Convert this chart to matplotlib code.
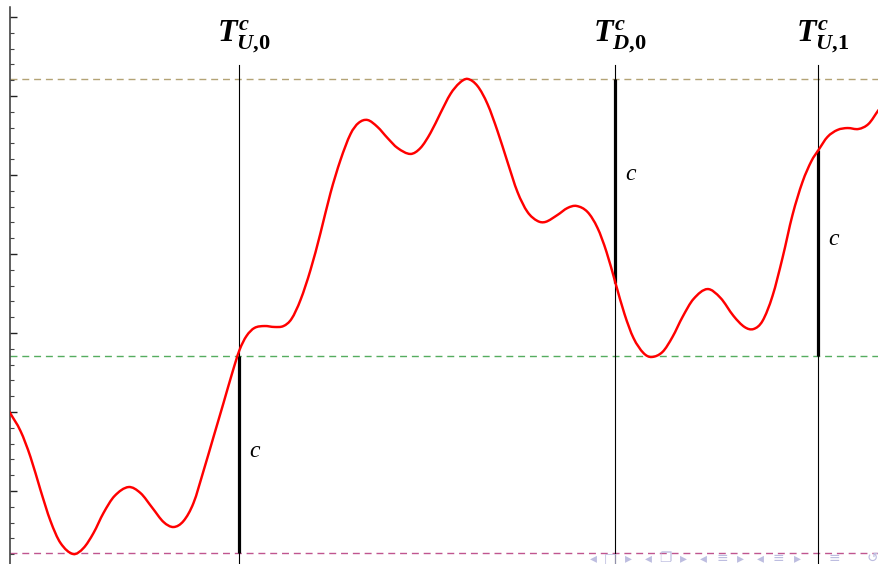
import matplotlib
matplotlib.use("Agg")
import matplotlib.pyplot as plt
from matplotlib.ticker import MultipleLocator
from matplotlib.path import Path
from matplotlib.patches import PathPatch

plt.rcParams['mathtext.fontset'] = 'custom'
plt.rcParams['mathtext.it'] = 'Liberation Serif:italic:bold'
plt.rcParams['mathtext.rm'] = 'Liberation Serif:bold'
plt.rcParams['mathtext.bf'] = 'Liberation Serif:bold'

# ---- data (time, level) ----
t = [0, 1.1, 2.1, 3.1, 4.1, 5.1, 6.37, 7.4, 8.4, 9.4, 10.5, 11.9, 13.1, 14.3, 15.4,
     16.4, 17.4, 18.4, 19.4, 20.4, 21.4, 22.3, 23.0, 23.7, 24.5, 25.5, 26.5, 27.4,
     28.2, 29.1, 30.1, 31.1, 32.1, 33.1, 34.1, 34.9, 35.8, 36.8, 37.8, 38.8, 40.1,
     41.1, 42.1, 43.1, 44.1, 45.0, 45.8, 46.8, 47.8, 48.8, 49.8, 50.8, 51.8, 52.8,
     53.6, 54.8, 55.8, 56.7, 57.8, 58.8, 59.7, 60.6, 61.5, 62.4, 63.4, 64.2, 65.3,
     66.3, 67.3, 68.4, 69.8, 71.1, 72.4, 73.5, 74.4, 75.3, 76.3, 77.3, 78.3, 79.3,
     80.2, 80.9, 81.8, 82.8, 83.8, 84.9, 85.9, 86.9]
level = [0, -1.20, -2.85, -4.94, -6.90, -8.29, -8.99, -8.61, -7.66, -6.39, -5.32,
         -4.75, -5.13, -6.08, -6.96, -7.28, -6.90, -5.76, -3.73, -1.58, 0.57, 2.53,
         3.92, 4.81, 5.32, 5.44, 5.38, 5.44, 5.89, 7.09, 8.99, 11.33, 13.86, 15.95,
         17.59, 18.29, 18.48, 18.04, 17.34, 16.71, 16.33, 16.71, 17.66, 18.92, 20.13,
         20.82, 21.08, 20.63, 19.49, 17.78, 15.82, 13.92, 12.66, 12.09, 12.03, 12.47,
         12.91, 13.04, 12.66, 11.65, 10.13, 8.16, 6.20, 4.68, 3.73, 3.48, 3.80, 4.75,
         6.01, 7.15, 7.78, 7.22, 6.08, 5.38, 5.25, 5.76, 7.34, 9.75, 12.47, 14.56,
         15.89, 16.58, 17.41, 17.85, 17.97, 17.91, 18.23, 19.11]

levels = [21.08, 3.54, -8.92]            # max level, running level, min level
level_colors = ['#b3a375', '#55ad5f', '#c0558f']

stop_times = [23.0, 60.6, 80.9]
stop_labels = [r'$T^{c}_{U{,}0}$', r'$T^{c}_{D{,}0}$', r'$T^{c}_{U{,}1}$']
seg_bottom = [-8.92, 8.16, 3.54]
seg_top = [3.54, 21.08, 16.58]
c_label_y = [-2.5, 15.0, 10.9]

nav_symbols = ['◂', '□', '▸', '◂', '❐', '▸', '◂', '≡', '▸', '◂', '≡', '▸', '≡', '↺']
nav_px = [593, 610, 628, 648, 665, 683, 703, 722, 740, 760, 778, 797, 834, 872]

# ---- figure ----
W, H = 879, 564
fig = plt.figure(figsize=(W / 100, H / 100), dpi=100)
ax = fig.add_axes([9.5 / W, 0, (W - 9.5) / W, (H - 7) / H])
ax.set_xlim(0, 86.95)
ax.set_ylim(-9.62, 25.63)

for lv, col in zip(levels, level_colors):
    ax.axhline(lv, color=col, lw=1.0, ls=(0, (5, 3.5)), zorder=1)

for x in stop_times:
    ax.plot([x, x], [-9.62, 21.96], color='black', lw=0.8, zorder=2)
for x, b, tp in zip(stop_times, seg_bottom, seg_top):
    ax.plot([x, x], [b, tp], color='black', lw=2.3, zorder=3, solid_capstyle='butt')
for x, yl in zip(stop_times, c_label_y):
    ax.text(x + 0.95, yl, 'c', family='Liberation Serif', style='italic',
            fontsize=17, va='center', ha='left')

for x, lab in zip(stop_times, stop_labels):
    ax.text(x + 0.45, 23.75, lab, fontsize=23, ha='center', va='center')

# smooth curve through the read points (cubic Hermite segments drawn as Beziers)
n = len(t)
slopes = []
for i in range(n):
    a, b = max(i - 1, 0), min(i + 1, n - 1)
    slopes.append((level[b] - level[a]) / (t[b] - t[a]))
verts = [(t[0], level[0])]
codes = [Path.MOVETO]
for i in range(n - 1):
    dx = t[i + 1] - t[i]
    c1 = (t[i] + dx / 3, level[i] + slopes[i] * dx / 3)
    c2 = (t[i + 1] - dx / 3, level[i + 1] - slopes[i + 1] * dx / 3)
    verts += [c1, c2, (t[i + 1], level[i + 1])]
    codes += [Path.CURVE4] * 3
ax.add_patch(PathPatch(Path(verts, codes), facecolor='none', edgecolor='#ff0000',
                       lw=1.75, zorder=4, capstyle='round', joinstyle='round'))

for s, px in zip(nav_symbols, nav_px):
    fig.text(px / W, 1 - 558 / H, s, color='#bdbde0', fontsize=10,
             ha='center', va='center', family=['DejaVu Sans', 'Noto Sans CJK SC'])

for side in ['top', 'right', 'bottom']:
    ax.spines[side].set_visible(False)
ax.spines['left'].set_color('#333333')
ax.spines['left'].set_linewidth(1.1)
ax.yaxis.set_major_locator(MultipleLocator(5))
ax.yaxis.set_minor_locator(MultipleLocator(1))
ax.tick_params(axis='y', which='major', direction='in', length=5, width=1.0,
               color='#222222', labelleft=False)
ax.tick_params(axis='y', which='minor', direction='in', length=3, width=0.8,
               color='#444444')
ax.set_xticks([])
ax.patch.set_visible(False)

fig.savefig('out.png', dpi=100)
